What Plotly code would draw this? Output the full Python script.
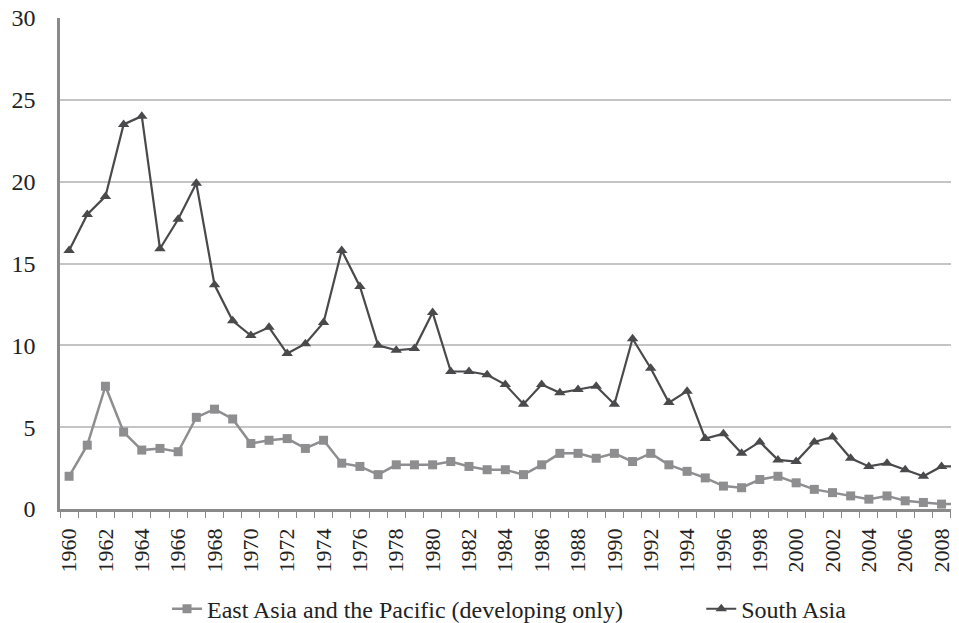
import plotly.graph_objects as go

years = list(range(1960, 2010))
east_asia = [2.0, 3.9, 7.5, 4.7, 3.6, 3.7, 3.5, 5.6, 6.1, 5.5,
             4.0, 4.2, 4.3, 3.7, 4.2, 2.8, 2.6, 2.1, 2.7, 2.7,
             2.7, 2.9, 2.6, 2.4, 2.4, 2.1, 2.7, 3.4, 3.4, 3.1,
             3.4, 2.9, 3.4, 2.7, 2.3, 1.9, 1.4, 1.3, 1.8, 2.0,
             1.6, 1.2, 1.0, 0.8, 0.6, 0.8, 0.5, 0.4, 0.3, 0.3]
south_asia = [15.8, 18.0, 19.1, 23.5, 24.0, 15.9, 17.7, 19.9, 13.7, 11.5,
              10.6, 11.1, 9.5, 10.1, 11.4, 15.8, 13.6, 10.0, 9.7, 9.8,
              12.0, 8.4, 8.4, 8.2, 7.6, 6.4, 7.6, 7.1, 7.3, 7.5,
              6.4, 10.4, 8.6, 6.5, 7.2, 4.3, 4.6, 3.4, 4.1, 3.0,
              2.9, 4.1, 4.4, 3.1, 2.6, 2.8, 2.4, 2.0, 2.6, 2.6]
tick_years = list(range(1960, 2010, 2))
y_ticks = [0, 5, 10, 15, 20, 25, 30]

font_family = "Liberation Serif"

fig = go.Figure()
fig.add_trace(go.Scatter(
    x=years, y=east_asia, mode="lines+markers",
    name="East Asia and the Pacific (developing only)",
    line=dict(color="#8e8e90", width=2.5),
    marker=dict(symbol="square", size=9, color="#8e8e90"),
    legend="legend",
))
fig.add_trace(go.Scatter(
    x=years, y=south_asia, mode="lines+markers",
    name="South Asia",
    line=dict(color="#4a4a4c", width=2.2),
    marker=dict(symbol="triangle-up", size=10, color="#4a4a4c"),
    legend="legend2",
))

legend_font = dict(size=24, family=font_family, color="#222222")
fig.update_layout(
    width=959, height=623,
    margin=dict(l=52, r=0, t=10, b=122, autoexpand=False),
    paper_bgcolor="white", plot_bgcolor="white",
    font=dict(family=font_family, color="#222222"),
    showlegend=True,
    legend=dict(orientation="h", x=0.118, xanchor="left", y=-0.204, yanchor="middle",
                font=legend_font, itemwidth=30),
    legend2=dict(orientation="h", x=0.707, xanchor="left", y=-0.204, yanchor="middle",
                 font=legend_font, itemwidth=30),
)
fig.update_xaxes(
    range=[1959.5, 2009.4], automargin=False,
    tickmode="array", tickvals=tick_years, ticktext=[str(y) for y in tick_years],
    tickangle=-90, tickfont=dict(size=22, family=font_family, color="#222222"),
    ticks="", showgrid=False, zeroline=False, ticklabelstandoff=8,
    ticklabeloverflow="allow",
    showline=True, linecolor="#8a8a8a", linewidth=2.5,
    minor=dict(tickmode="linear", tick0=1959.5, dtick=1, ticks="outside",
               ticklen=6, tickcolor="#8a8a8a", tickwidth=1, showgrid=False),
)
fig.update_yaxes(
    range=[0, 30], tickmode="array", tickvals=y_ticks, automargin=False,
    tickfont=dict(size=24, family=font_family, color="#222222"),
    showgrid=True, gridcolor="#c4c4c4", gridwidth=2,
    zeroline=False, showline=True, linecolor="#8a8a8a", linewidth=2.5,
    ticks="", ticklabelstandoff=17, ticklabeloverflow="allow",
)

fig.write_html("out.html")
